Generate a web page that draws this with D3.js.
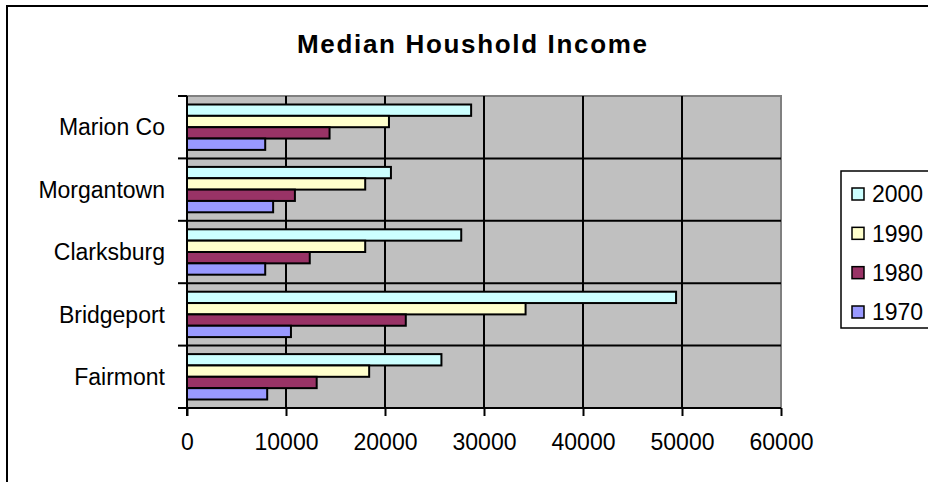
<!DOCTYPE html>
<html>
<head>
<meta charset="utf-8">
<script src="https://cdn.jsdelivr.net/npm/d3@7"></script>
<style>
  body { margin: 0; background: #fff; }
  text { font-family: "Liberation Sans", Arial, sans-serif; fill: #000; }
</style>
</head>
<body>
<div id="chart"></div>
<script>
// data
var categories = ["Marion Co", "Morgantown", "Clarksburg", "Bridgeport", "Fairmont"];
var years = ["2000", "1990", "1980", "1970"];
var income2000 = [28700, 20600, 27700, 49400, 25700];
var income1990 = [20400, 18000, 18000, 34200, 18400];
var income1980 = [14400, 10900, 12400, 22100, 13100];
var income1970 = [7900, 8700, 7900, 10500, 8100];
var xTicks = [0, 10000, 20000, 30000, 40000, 50000, 60000];

var colors = {"2000": "#CCFFFF", "1990": "#FFFFCC", "1980": "#993366", "1970": "#9999FF"};
var seriesValues = {"2000": income2000, "1990": income1990, "1980": income1980, "1970": income1970};

var svgWidth = 928;
var svgHeight = 482;

var plot = {left: 187, right: 781, top: 96, bottom: 408};

var svg = d3.select("#chart")
    .append("svg")
    .attr("width", svgWidth)
    .attr("height", svgHeight);

// outer chart frame (runs off the right and bottom)
svg.append("rect")
    .attr("x", 7)
    .attr("y", 6)
    .attr("width", 1000)
    .attr("height", 600)
    .attr("fill", "#fff")
    .attr("stroke", "#000")
    .attr("stroke-width", 2);

svg.append("text")
    .attr("x", 297)
    .attr("y", 53)
    .attr("font-size", "26px")
    .attr("font-weight", "bold")
    .attr("textLength", 350)
    .attr("lengthAdjust", "spacing")
    .text("Median Houshold Income");

var xScale = d3.scaleLinear()
    .domain([0, 60000])
    .range([plot.left, plot.right]);

var yScale = d3.scaleBand()
    .domain(categories)
    .range([plot.top, plot.bottom]);

var bw = yScale.bandwidth();
var gap = bw * 1.5 / 5.5 / 2;
var inner = d3.scaleBand()
    .domain(years)
    .range([gap, bw - gap]);

// plot area
svg.append("rect")
    .attr("x", plot.left)
    .attr("y", plot.top)
    .attr("width", plot.right - plot.left)
    .attr("height", plot.bottom - plot.top)
    .attr("fill", "#C0C0C0")
    .attr("stroke", "#808080")
    .attr("stroke-width", 2);

// vertical gridlines
svg.append("g")
    .selectAll("line")
    .data(xTicks.slice(1, -1))
    .enter()
    .append("line")
    .attr("x1", d => xScale(d))
    .attr("x2", d => xScale(d))
    .attr("y1", plot.top)
    .attr("y2", plot.bottom)
    .attr("stroke", "#000")
    .attr("stroke-width", 2);

// horizontal gridlines between categories
svg.append("g")
    .selectAll("line")
    .data(categories.slice(1))
    .enter()
    .append("line")
    .attr("x1", plot.left)
    .attr("x2", plot.right)
    .attr("y1", d => yScale(d))
    .attr("y2", d => yScale(d))
    .attr("stroke", "#000")
    .attr("stroke-width", 2);

// bars
var groups = svg.append("g")
    .selectAll("g")
    .data(categories)
    .enter()
    .append("g")
    .attr("transform", d => `translate(0, ${yScale(d)})`);

groups.selectAll("rect")
    .data((c, i) => years.map(y => ({year: y, value: seriesValues[y][i]})))
    .enter()
    .append("rect")
    .attr("x", xScale(0))
    .attr("y", d => inner(d.year))
    .attr("width", d => xScale(d.value) - xScale(0))
    .attr("height", inner.bandwidth())
    .attr("fill", d => colors[d.year])
    .attr("stroke", "#000")
    .attr("stroke-width", 2);

// x axis
var bottomAxis = d3.axisBottom(xScale)
    .tickValues(xTicks)
    .tickSize(8)
    .tickSizeOuter(0)
    .tickPadding(18)
    .tickFormat(d3.format("d"));

var xAxis = svg.append("g")
    .attr("transform", `translate(0, ${plot.bottom})`)
    .call(bottomAxis);
xAxis.select(".domain").attr("stroke", "#000").attr("stroke-width", 2).attr("d", `M${plot.left - 9},0H${plot.right}`);
xAxis.selectAll(".tick line").attr("stroke", "#000").attr("stroke-width", 2);
xAxis.selectAll(".tick text")
    .attr("font-size", "23px")
    .attr("font-family", "Liberation Sans, Arial, sans-serif")
    .attr("fill", "#000");

// y axis with ticks on the band edges
svg.append("line")
    .attr("x1", plot.left)
    .attr("x2", plot.left)
    .attr("y1", plot.top)
    .attr("y2", plot.bottom + 8)
    .attr("stroke", "#000")
    .attr("stroke-width", 2);

svg.append("g")
    .selectAll("line")
    .data(categories.concat(["end"]))
    .enter()
    .append("line")
    .attr("x1", plot.left - 9)
    .attr("x2", plot.left)
    .attr("y1", d => d == "end" ? plot.bottom : yScale(d))
    .attr("y2", d => d == "end" ? plot.bottom : yScale(d))
    .attr("stroke", "#000")
    .attr("stroke-width", 2);

svg.append("g")
    .selectAll("text")
    .data(categories)
    .enter()
    .append("text")
    .attr("x", 165)
    .attr("y", d => yScale(d) + bw / 2)
    .attr("dy", "0.36em")
    .attr("text-anchor", "end")
    .attr("font-size", "23px")
    .text(d => d);

// legend
var legend = svg.append("g");
legend.append("rect")
    .attr("x", 841)
    .attr("y", 171)
    .attr("width", 200)
    .attr("height", 157)
    .attr("fill", "#fff")
    .attr("stroke", "#000")
    .attr("stroke-width", 1.5);

var legendY = d3.scalePoint()
    .domain(years)
    .range([194, 312]);

var items = legend.selectAll("g.item")
    .data(years)
    .enter()
    .append("g")
    .attr("class", "item")
    .attr("transform", d => `translate(0, ${legendY(d)})`);

items.append("rect")
    .attr("x", 852)
    .attr("y", -6)
    .attr("width", 12)
    .attr("height", 12)
    .attr("fill", d => colors[d])
    .attr("stroke", "#000")
    .attr("stroke-width", 1.5);

items.append("text")
    .attr("x", 872)
    .attr("dy", "0.36em")
    .attr("font-size", "23px")
    .text(d => d);
</script>
</body>
</html>
